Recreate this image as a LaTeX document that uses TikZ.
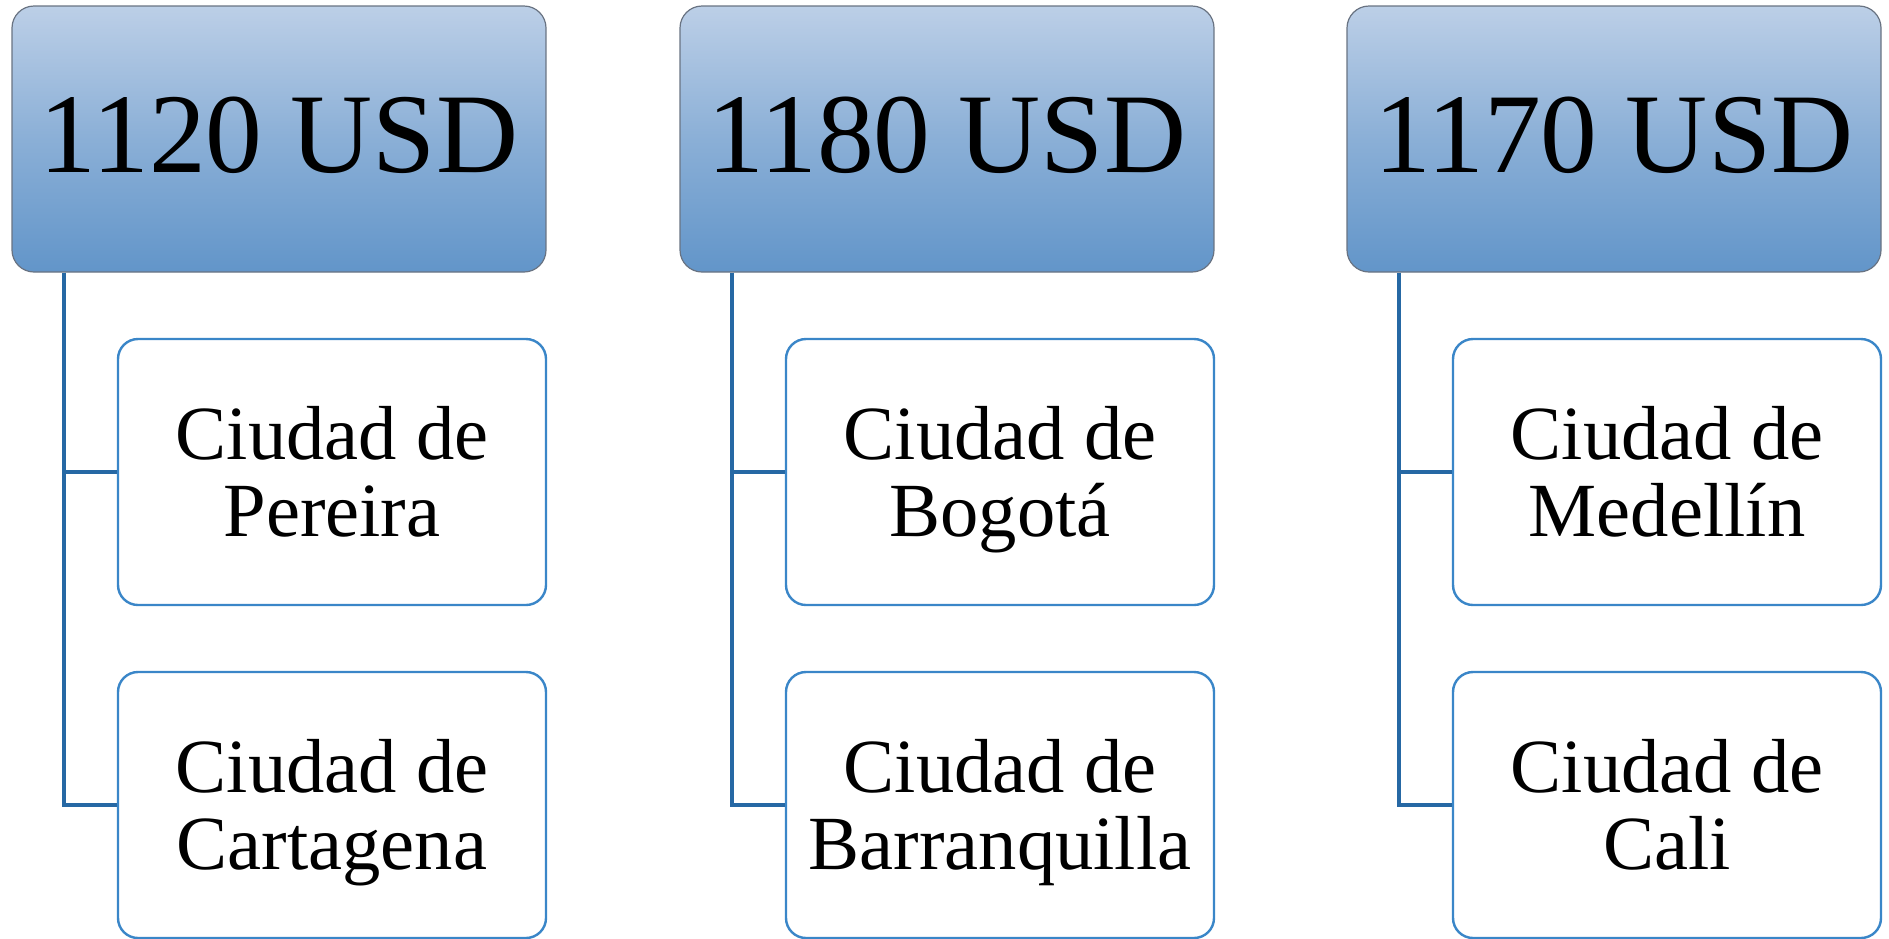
\documentclass[tikz,border=0pt]{standalone}
\usepackage{fontspec}
\setmainfont{Liberation Serif}
\usetikzlibrary{shapes.geometric, arrows}
\definecolor{headtop}{RGB}{188,207,231}
\definecolor{headbot}{RGB}{98,149,201}
\definecolor{headline}{RGB}{105,115,130}
\definecolor{cityline}{RGB}{58,134,200}
\definecolor{linkblue}{RGB}{38,104,164}
\tikzstyle{price} = [rectangle, rounded corners=11pt, minimum width=267pt, minimum height=133pt, text centered, text depth=4pt, draw=headline, line width=0.6pt, top color=headtop, bottom color=headbot, middle color=headtop!45!headbot, font=\fontsize{56.8}{60}\selectfont]
\tikzstyle{city} = [rectangle, rounded corners=10pt, minimum width=214pt, minimum height=133pt, align=center, text height=64.7pt, text depth=0pt, draw=cityline, line width=1.2pt, fill=white, font=\fontsize{38.3}{38.5}\selectfont]
\tikzstyle{link} = [draw=linkblue, line width=2pt]

\begin{document}
\begin{tikzpicture}[x=0.5pt, y=-0.5pt, node distance=166.5pt]
\useasboundingbox (0,0) rectangle (1889,938);

% Price boxes
\node (price1) [price] at (279,139) {1120 USD};
\node (price2) [price] at (947,139) {1180 USD};
\node (price3) [price] at (1614,139) {1170 USD};

% City boxes
\node (city1a) [city, below of=price1, xshift=26.5pt] {Ciudad de\\Pereira};
\node (city1b) [city, below of=city1a] {Ciudad de\\Cartagena};
\node (city2a) [city, below of=price2, xshift=26.5pt] {Ciudad de\\Bogotá};
\node (city2b) [city, below of=city2a] {Ciudad de\\Barranquilla};
\node (city3a) [city, below of=price3, xshift=26.5pt] {Ciudad de\\Medellín};
\node (city3b) [city, below of=city3a] {Ciudad de\\Cali};

% Links
\draw [link] ([xshift=26.5pt]price1.south west) |- (city1a.west);
\draw [link] ([xshift=26.5pt]price1.south west) |- (city1b.west);
\draw [link] ([xshift=26.5pt]price2.south west) |- (city2a.west);
\draw [link] ([xshift=26.5pt]price2.south west) |- (city2b.west);
\draw [link] ([xshift=26.5pt]price3.south west) |- (city3a.west);
\draw [link] ([xshift=26.5pt]price3.south west) |- (city3b.west);

\end{tikzpicture}
\end{document}
